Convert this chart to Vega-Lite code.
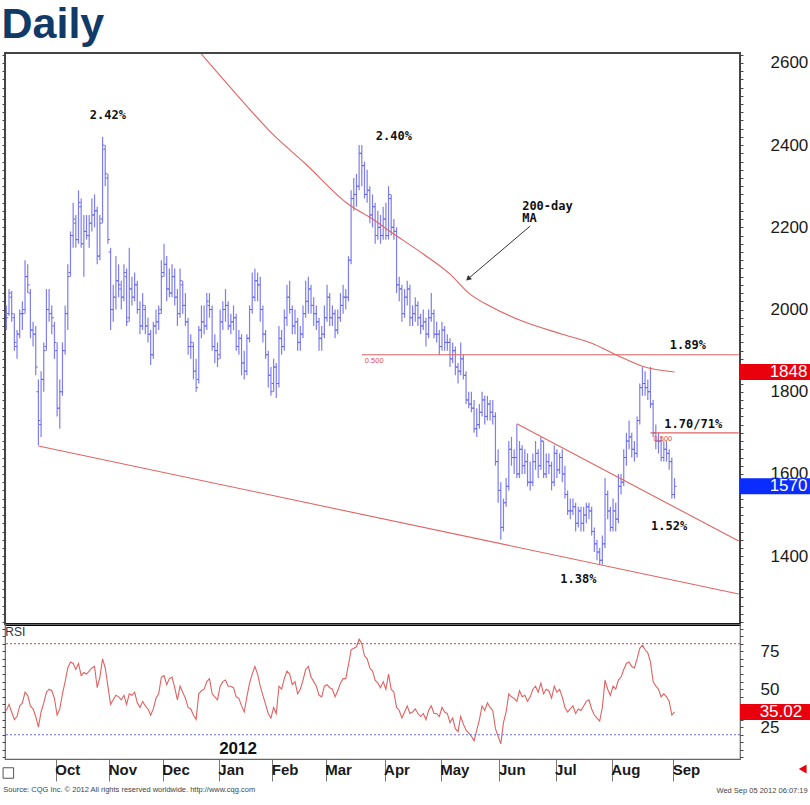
{
"$schema": "https://vega.github.io/schema/vega-lite/v6.json",
"padding": {"left": 0, "top": 4, "right": 0, "bottom": 0},
"background": "white",
"title": {"text": "Daily", "anchor": "start", "fontSize": 43, "font": "Liberation Sans", "fontWeight": "bold", "color": "#103a68", "offset": 4, "dx": 1},
"spacing": 0,
"bounds": "flush",
"resolve": {"scale": {"x": "independent", "y": "independent"}, "axis": {"x": "independent", "y": "independent"}},
"config": {"font": "Liberation Sans", "view": {"stroke": "#444", "strokeWidth": 1.5}, "axis": {"grid": false}},
"datasets": {
"px": [
{"d":"2011-09-06","o":1990,"h":2010,"l":1950,"c":1980,"r":36},
{"d":"2011-09-07","o":1990,"h":2050,"l":1985,"c":2040,"r":40},
{"d":"2011-09-08","o":2030,"h":2045,"l":1970,"c":1990,"r":35},
{"d":"2011-09-09","o":1980,"h":1990,"l":1900,"c":1920,"r":30},
{"d":"2011-09-12","o":1910,"h":1950,"l":1880,"c":1940,"r":32},
{"d":"2011-09-13","o":1940,"h":2000,"l":1930,"c":1990,"r":39},
{"d":"2011-09-14","o":1990,"h":2020,"l":1950,"c":1990,"r":41},
{"d":"2011-09-15","o":2000,"h":2120,"l":1990,"c":2080,"r":48},
{"d":"2011-09-16","o":2080,"h":2110,"l":2040,"c":2060,"r":46},
{"d":"2011-09-19","o":2040,"h":2050,"l":1930,"c":1950,"r":39},
{"d":"2011-09-20","o":1950,"h":1970,"l":1910,"c":1940,"r":37},
{"d":"2011-09-21","o":1940,"h":1960,"l":1840,"c":1860,"r":32},
{"d":"2011-09-22","o":1800,"h":1830,"l":1670,"c":1730,"r":25},
{"d":"2011-09-23","o":1720,"h":1850,"l":1690,"c":1830,"r":35},
{"d":"2011-09-26","o":1830,"h":1920,"l":1800,"c":1900,"r":41},
{"d":"2011-09-27","o":1910,"h":2050,"l":1900,"c":2000,"r":48},
{"d":"2011-09-28","o":2000,"h":2050,"l":1970,"c":1990,"r":50},
{"d":"2011-09-29","o":1990,"h":2010,"l":1940,"c":1980,"r":49},
{"d":"2011-09-30","o":1960,"h":1970,"l":1880,"c":1920,"r":44},
{"d":"2011-10-03","o":1900,"h":1920,"l":1740,"c":1760,"r":33},
{"d":"2011-10-04","o":1760,"h":1830,"l":1710,"c":1800,"r":37},
{"d":"2011-10-05","o":1800,"h":1920,"l":1790,"c":1900,"r":47},
{"d":"2011-10-06","o":1900,"h":2010,"l":1890,"c":1990,"r":55},
{"d":"2011-10-07","o":1990,"h":2110,"l":1950,"c":2080,"r":64},
{"d":"2011-10-11","o":2090,"h":2190,"l":2080,"c":2180,"r":68},
{"d":"2011-10-12","o":2180,"h":2260,"l":2150,"c":2220,"r":67},
{"d":"2011-10-13","o":2210,"h":2230,"l":2150,"c":2170,"r":63},
{"d":"2011-10-14","o":2170,"h":2290,"l":2160,"c":2260,"r":67},
{"d":"2011-10-17","o":2250,"h":2270,"l":2150,"c":2160,"r":59},
{"d":"2011-10-18","o":2160,"h":2230,"l":2080,"c":2190,"r":61},
{"d":"2011-10-19","o":2190,"h":2230,"l":2170,"c":2180,"r":60},
{"d":"2011-10-20","o":2180,"h":2230,"l":2150,"c":2210,"r":62},
{"d":"2011-10-21","o":2210,"h":2270,"l":2190,"c":2230,"r":64},
{"d":"2011-10-24","o":2230,"h":2280,"l":2200,"c":2240,"r":65},
{"d":"2011-10-25","o":2240,"h":2250,"l":2110,"c":2130,"r":51},
{"d":"2011-10-26","o":2130,"h":2230,"l":2120,"c":2210,"r":58},
{"d":"2011-10-27","o":2220,"h":2420,"l":2210,"c":2400,"r":70},
{"d":"2011-10-28","o":2390,"h":2400,"l":2300,"c":2330,"r":64},
{"d":"2011-10-31","o":2320,"h":2330,"l":2160,"c":2170,"r":52},
{"d":"2011-11-01","o":2140,"h":2150,"l":1950,"c":2000,"r":40},
{"d":"2011-11-02","o":2000,"h":2060,"l":1970,"c":2030,"r":43},
{"d":"2011-11-03","o":2030,"h":2130,"l":2000,"c":2070,"r":46},
{"d":"2011-11-04","o":2070,"h":2110,"l":2030,"c":2060,"r":45},
{"d":"2011-11-07","o":2050,"h":2070,"l":2000,"c":2030,"r":43},
{"d":"2011-11-08","o":2030,"h":2110,"l":2020,"c":2090,"r":46},
{"d":"2011-11-09","o":2080,"h":2100,"l":1960,"c":1970,"r":40},
{"d":"2011-11-10","o":1980,"h":2150,"l":1970,"c":2050,"r":47},
{"d":"2011-11-14","o":2050,"h":2080,"l":2010,"c":2030,"r":46},
{"d":"2011-11-15","o":2030,"h":2090,"l":2020,"c":2060,"r":48},
{"d":"2011-11-16","o":2060,"h":2070,"l":1990,"c":2000,"r":41},
{"d":"2011-11-17","o":2000,"h":2020,"l":1940,"c":1960,"r":38},
{"d":"2011-11-18","o":1960,"h":2040,"l":1950,"c":2010,"r":42},
{"d":"2011-11-21","o":2000,"h":2010,"l":1940,"c":1960,"r":39},
{"d":"2011-11-22","o":1960,"h":1980,"l":1920,"c":1940,"r":37},
{"d":"2011-11-23","o":1940,"h":1950,"l":1865,"c":1890,"r":33},
{"d":"2011-11-25","o":1890,"h":1970,"l":1880,"c":1960,"r":37},
{"d":"2011-11-28","o":1960,"h":2000,"l":1940,"c":1970,"r":44},
{"d":"2011-11-29","o":1970,"h":2010,"l":1950,"c":1990,"r":47},
{"d":"2011-11-30","o":2000,"h":2120,"l":1990,"c":2080,"r":58},
{"d":"2011-12-01","o":2090,"h":2160,"l":2080,"c":2110,"r":59},
{"d":"2011-12-02","o":2110,"h":2130,"l":2020,"c":2050,"r":53},
{"d":"2011-12-05","o":2050,"h":2100,"l":2030,"c":2040,"r":57},
{"d":"2011-12-06","o":2040,"h":2110,"l":2030,"c":2080,"r":58},
{"d":"2011-12-07","o":2080,"h":2100,"l":2010,"c":2030,"r":51},
{"d":"2011-12-08","o":2030,"h":2050,"l":1960,"c":1990,"r":43},
{"d":"2011-12-09","o":1990,"h":2100,"l":1980,"c":2070,"r":52},
{"d":"2011-12-12","o":2060,"h":2070,"l":1990,"c":2010,"r":48},
{"d":"2011-12-13","o":2010,"h":2040,"l":1960,"c":1970,"r":44},
{"d":"2011-12-14","o":1970,"h":1980,"l":1890,"c":1910,"r":38},
{"d":"2011-12-15","o":1910,"h":1940,"l":1880,"c":1920,"r":37},
{"d":"2011-12-16","o":1910,"h":1920,"l":1830,"c":1850,"r":33},
{"d":"2011-12-19","o":1850,"h":1880,"l":1800,"c":1810,"r":30},
{"d":"2011-12-20","o":1830,"h":1960,"l":1820,"c":1950,"r":47},
{"d":"2011-12-21","o":1950,"h":2010,"l":1930,"c":1970,"r":49},
{"d":"2011-12-22","o":1970,"h":2010,"l":1940,"c":1960,"r":50},
{"d":"2011-12-23","o":1960,"h":2040,"l":1950,"c":2020,"r":55},
{"d":"2011-12-27","o":2010,"h":2040,"l":1980,"c":2000,"r":57},
{"d":"2011-12-28","o":2000,"h":2010,"l":1900,"c":1910,"r":47},
{"d":"2011-12-29","o":1910,"h":1940,"l":1870,"c":1900,"r":45},
{"d":"2011-12-30","o":1900,"h":1920,"l":1860,"c":1880,"r":43},
{"d":"2012-01-03","o":1890,"h":2000,"l":1880,"c":1970,"r":52},
{"d":"2012-01-04","o":1970,"h":2020,"l":1950,"c":2000,"r":55},
{"d":"2012-01-05","o":2000,"h":2050,"l":1970,"c":2010,"r":56},
{"d":"2012-01-06","o":2010,"h":2020,"l":1950,"c":1960,"r":52},
{"d":"2012-01-09","o":1960,"h":1990,"l":1940,"c":1970,"r":52},
{"d":"2012-01-10","o":1970,"h":2010,"l":1950,"c":1980,"r":51},
{"d":"2012-01-11","o":1980,"h":1990,"l":1900,"c":1910,"r":45},
{"d":"2012-01-12","o":1910,"h":1950,"l":1890,"c":1930,"r":44},
{"d":"2012-01-13","o":1930,"h":1940,"l":1840,"c":1870,"r":39},
{"d":"2012-01-17","o":1870,"h":1900,"l":1830,"c":1850,"r":35},
{"d":"2012-01-18","o":1850,"h":1940,"l":1840,"c":1930,"r":45},
{"d":"2012-01-19","o":1930,"h":2010,"l":1920,"c":2000,"r":54},
{"d":"2012-01-20","o":2000,"h":2090,"l":1990,"c":2030,"r":60},
{"d":"2012-01-23","o":2030,"h":2100,"l":2020,"c":2070,"r":65},
{"d":"2012-01-24","o":2070,"h":2090,"l":2020,"c":2060,"r":60},
{"d":"2012-01-25","o":2060,"h":2080,"l":1970,"c":2000,"r":52},
{"d":"2012-01-26","o":2000,"h":2010,"l":1920,"c":1940,"r":46},
{"d":"2012-01-27","o":1940,"h":1950,"l":1880,"c":1890,"r":40},
{"d":"2012-01-30","o":1890,"h":1900,"l":1810,"c":1840,"r":34},
{"d":"2012-01-31","o":1840,"h":1860,"l":1790,"c":1800,"r":31},
{"d":"2012-02-01","o":1820,"h":1880,"l":1800,"c":1860,"r":38},
{"d":"2012-02-02","o":1860,"h":1870,"l":1785,"c":1820,"r":34},
{"d":"2012-02-03","o":1820,"h":1960,"l":1810,"c":1930,"r":52},
{"d":"2012-02-06","o":1930,"h":1950,"l":1890,"c":1910,"r":50},
{"d":"2012-02-07","o":1910,"h":2000,"l":1900,"c":1980,"r":57},
{"d":"2012-02-08","o":1980,"h":2060,"l":1960,"c":2030,"r":62},
{"d":"2012-02-09","o":2030,"h":2070,"l":1990,"c":2000,"r":60},
{"d":"2012-02-10","o":2000,"h":2010,"l":1940,"c":1960,"r":53},
{"d":"2012-02-13","o":1960,"h":2000,"l":1940,"c":1970,"r":55},
{"d":"2012-02-14","o":1970,"h":1980,"l":1900,"c":1920,"r":47},
{"d":"2012-02-15","o":1920,"h":1960,"l":1900,"c":1940,"r":50},
{"d":"2012-02-16","o":1940,"h":2010,"l":1930,"c":1990,"r":56},
{"d":"2012-02-17","o":1990,"h":2070,"l":1980,"c":2020,"r":63},
{"d":"2012-02-21","o":2020,"h":2080,"l":1990,"c":2050,"r":65},
{"d":"2012-02-22","o":2050,"h":2060,"l":1990,"c":2010,"r":58},
{"d":"2012-02-23","o":2010,"h":2030,"l":1960,"c":1990,"r":55},
{"d":"2012-02-24","o":1990,"h":2010,"l":1950,"c":1970,"r":52},
{"d":"2012-02-27","o":1970,"h":1980,"l":1900,"c":1930,"r":46},
{"d":"2012-02-28","o":1930,"h":1960,"l":1900,"c":1940,"r":45},
{"d":"2012-02-29","o":1940,"h":2010,"l":1930,"c":1980,"r":52},
{"d":"2012-03-01","o":1980,"h":2060,"l":1970,"c":2030,"r":53},
{"d":"2012-03-02","o":2030,"h":2040,"l":1960,"c":1980,"r":51},
{"d":"2012-03-05","o":1980,"h":2010,"l":1960,"c":1990,"r":50},
{"d":"2012-03-06","o":1990,"h":2000,"l":1930,"c":1950,"r":45},
{"d":"2012-03-07","o":1950,"h":2000,"l":1940,"c":1980,"r":49},
{"d":"2012-03-08","o":1980,"h":2040,"l":1970,"c":2010,"r":54},
{"d":"2012-03-09","o":2010,"h":2060,"l":1990,"c":2030,"r":57},
{"d":"2012-03-12","o":2030,"h":2050,"l":2000,"c":2030,"r":57},
{"d":"2012-03-13","o":2030,"h":2130,"l":2020,"c":2120,"r":66},
{"d":"2012-03-14","o":2120,"h":2290,"l":2110,"c":2270,"r":76},
{"d":"2012-03-15","o":2270,"h":2320,"l":2240,"c":2280,"r":77},
{"d":"2012-03-16","o":2280,"h":2330,"l":2250,"c":2300,"r":78},
{"d":"2012-03-19","o":2300,"h":2400,"l":2290,"c":2380,"r":83},
{"d":"2012-03-20","o":2380,"h":2400,"l":2300,"c":2350,"r":80},
{"d":"2012-03-21","o":2350,"h":2360,"l":2270,"c":2280,"r":72},
{"d":"2012-03-22","o":2280,"h":2340,"l":2260,"c":2290,"r":70},
{"d":"2012-03-23","o":2290,"h":2300,"l":2210,"c":2230,"r":64},
{"d":"2012-03-26","o":2230,"h":2280,"l":2200,"c":2250,"r":62},
{"d":"2012-03-27","o":2250,"h":2260,"l":2160,"c":2180,"r":56},
{"d":"2012-03-28","o":2180,"h":2240,"l":2170,"c":2200,"r":54},
{"d":"2012-03-29","o":2200,"h":2230,"l":2160,"c":2180,"r":51},
{"d":"2012-03-30","o":2180,"h":2250,"l":2170,"c":2220,"r":55},
{"d":"2012-04-02","o":2220,"h":2260,"l":2170,"c":2180,"r":50},
{"d":"2012-04-03","o":2180,"h":2300,"l":2170,"c":2280,"r":60},
{"d":"2012-04-04","o":2270,"h":2280,"l":2180,"c":2200,"r":50},
{"d":"2012-04-05","o":2200,"h":2220,"l":2170,"c":2190,"r":48},
{"d":"2012-04-06","o":2190,"h":2200,"l":2040,"c":2060,"r":38},
{"d":"2012-04-09","o":2060,"h":2080,"l":2020,"c":2050,"r":36},
{"d":"2012-04-10","o":2050,"h":2060,"l":1970,"c":1990,"r":31},
{"d":"2012-04-11","o":1990,"h":2050,"l":1980,"c":2030,"r":35},
{"d":"2012-04-12","o":2030,"h":2070,"l":2010,"c":2050,"r":39},
{"d":"2012-04-13","o":2050,"h":2060,"l":1960,"c":1980,"r":34},
{"d":"2012-04-16","o":1980,"h":2010,"l":1960,"c":1990,"r":35},
{"d":"2012-04-17","o":1990,"h":2030,"l":1970,"c":2010,"r":37},
{"d":"2012-04-18","o":2010,"h":2020,"l":1960,"c":1980,"r":34},
{"d":"2012-04-19","o":1980,"h":1990,"l":1940,"c":1960,"r":32},
{"d":"2012-04-20","o":1960,"h":2000,"l":1950,"c":1970,"r":34},
{"d":"2012-04-23","o":1970,"h":1980,"l":1910,"c":1940,"r":30},
{"d":"2012-04-24","o":1940,"h":2000,"l":1930,"c":1980,"r":36},
{"d":"2012-04-25","o":1980,"h":2040,"l":1970,"c":1990,"r":39},
{"d":"2012-04-26","o":1990,"h":2000,"l":1930,"c":1940,"r":34},
{"d":"2012-04-27","o":1940,"h":1970,"l":1920,"c":1940,"r":34},
{"d":"2012-04-30","o":1940,"h":1950,"l":1890,"c":1910,"r":32},
{"d":"2012-05-01","o":1910,"h":1970,"l":1900,"c":1950,"r":38},
{"d":"2012-05-02","o":1950,"h":1960,"l":1900,"c":1920,"r":35},
{"d":"2012-05-03","o":1920,"h":1940,"l":1900,"c":1920,"r":34},
{"d":"2012-05-04","o":1920,"h":1930,"l":1860,"c":1880,"r":28},
{"d":"2012-05-07","o":1880,"h":1920,"l":1870,"c":1900,"r":31},
{"d":"2012-05-08","o":1900,"h":1910,"l":1840,"c":1860,"r":24},
{"d":"2012-05-09","o":1860,"h":1870,"l":1820,"c":1850,"r":22},
{"d":"2012-05-10","o":1850,"h":1920,"l":1840,"c":1880,"r":32},
{"d":"2012-05-11","o":1880,"h":1890,"l":1830,"c":1840,"r":27},
{"d":"2012-05-14","o":1840,"h":1850,"l":1770,"c":1780,"r":23},
{"d":"2012-05-15","o":1780,"h":1800,"l":1760,"c":1770,"r":21},
{"d":"2012-05-16","o":1770,"h":1800,"l":1750,"c":1760,"r":19},
{"d":"2012-05-17","o":1760,"h":1780,"l":1700,"c":1710,"r":16},
{"d":"2012-05-18","o":1710,"h":1760,"l":1690,"c":1720,"r":23},
{"d":"2012-05-21","o":1720,"h":1770,"l":1710,"c":1750,"r":30},
{"d":"2012-05-22","o":1750,"h":1800,"l":1740,"c":1780,"r":39},
{"d":"2012-05-23","o":1780,"h":1790,"l":1720,"c":1740,"r":36},
{"d":"2012-05-24","o":1740,"h":1790,"l":1730,"c":1770,"r":41},
{"d":"2012-05-25","o":1770,"h":1780,"l":1730,"c":1750,"r":38},
{"d":"2012-05-29","o":1750,"h":1780,"l":1720,"c":1740,"r":36},
{"d":"2012-05-30","o":1740,"h":1750,"l":1620,"c":1630,"r":24},
{"d":"2012-05-31","o":1630,"h":1660,"l":1530,"c":1560,"r":19},
{"d":"2012-06-01","o":1560,"h":1580,"l":1440,"c":1470,"r":14},
{"d":"2012-06-04","o":1470,"h":1540,"l":1460,"c":1530,"r":28},
{"d":"2012-06-05","o":1530,"h":1590,"l":1520,"c":1570,"r":35},
{"d":"2012-06-06","o":1570,"h":1680,"l":1560,"c":1660,"r":47},
{"d":"2012-06-07","o":1660,"h":1690,"l":1620,"c":1640,"r":45},
{"d":"2012-06-08","o":1640,"h":1660,"l":1600,"c":1640,"r":44},
{"d":"2012-06-11","o":1640,"h":1720,"l":1590,"c":1600,"r":42},
{"d":"2012-06-12","o":1600,"h":1680,"l":1590,"c":1660,"r":49},
{"d":"2012-06-13","o":1660,"h":1670,"l":1600,"c":1620,"r":45},
{"d":"2012-06-14","o":1620,"h":1660,"l":1600,"c":1630,"r":46},
{"d":"2012-06-15","o":1630,"h":1650,"l":1570,"c":1580,"r":42},
{"d":"2012-06-18","o":1580,"h":1630,"l":1560,"c":1580,"r":45},
{"d":"2012-06-19","o":1580,"h":1650,"l":1570,"c":1630,"r":50},
{"d":"2012-06-20","o":1630,"h":1680,"l":1610,"c":1650,"r":52},
{"d":"2012-06-21","o":1650,"h":1660,"l":1590,"c":1620,"r":48},
{"d":"2012-06-22","o":1620,"h":1690,"l":1610,"c":1680,"r":54},
{"d":"2012-06-25","o":1680,"h":1680,"l":1590,"c":1600,"r":47},
{"d":"2012-06-26","o":1600,"h":1650,"l":1590,"c":1630,"r":50},
{"d":"2012-06-27","o":1630,"h":1650,"l":1600,"c":1620,"r":49},
{"d":"2012-06-28","o":1620,"h":1630,"l":1560,"c":1580,"r":44},
{"d":"2012-06-29","o":1580,"h":1670,"l":1570,"c":1650,"r":52},
{"d":"2012-07-02","o":1650,"h":1660,"l":1590,"c":1610,"r":48},
{"d":"2012-07-03","o":1610,"h":1650,"l":1600,"c":1640,"r":50},
{"d":"2012-07-05","o":1640,"h":1660,"l":1580,"c":1600,"r":45},
{"d":"2012-07-06","o":1600,"h":1620,"l":1540,"c":1550,"r":38},
{"d":"2012-07-09","o":1550,"h":1560,"l":1500,"c":1510,"r":35},
{"d":"2012-07-10","o":1510,"h":1540,"l":1490,"c":1510,"r":37},
{"d":"2012-07-11","o":1510,"h":1540,"l":1500,"c":1520,"r":39},
{"d":"2012-07-12","o":1520,"h":1530,"l":1460,"c":1480,"r":34},
{"d":"2012-07-13","o":1480,"h":1520,"l":1470,"c":1510,"r":37},
{"d":"2012-07-16","o":1510,"h":1520,"l":1460,"c":1480,"r":36},
{"d":"2012-07-17","o":1480,"h":1520,"l":1460,"c":1500,"r":39},
{"d":"2012-07-18","o":1500,"h":1530,"l":1480,"c":1520,"r":42},
{"d":"2012-07-19","o":1520,"h":1530,"l":1490,"c":1510,"r":43},
{"d":"2012-07-20","o":1510,"h":1520,"l":1450,"c":1460,"r":37},
{"d":"2012-07-23","o":1460,"h":1470,"l":1410,"c":1430,"r":33},
{"d":"2012-07-24","o":1430,"h":1440,"l":1390,"c":1410,"r":31},
{"d":"2012-07-25","o":1410,"h":1420,"l":1380,"c":1390,"r":29},
{"d":"2012-07-26","o":1390,"h":1450,"l":1380,"c":1430,"r":38},
{"d":"2012-07-27","o":1430,"h":1590,"l":1420,"c":1550,"r":56},
{"d":"2012-07-30","o":1550,"h":1560,"l":1490,"c":1510,"r":50},
{"d":"2012-07-31","o":1510,"h":1520,"l":1460,"c":1470,"r":46},
{"d":"2012-08-01","o":1470,"h":1540,"l":1460,"c":1510,"r":52},
{"d":"2012-08-02","o":1510,"h":1530,"l":1460,"c":1490,"r":50},
{"d":"2012-08-03","o":1490,"h":1600,"l":1480,"c":1570,"r":56},
{"d":"2012-08-06","o":1570,"h":1600,"l":1550,"c":1580,"r":58},
{"d":"2012-08-07","o":1580,"h":1660,"l":1570,"c":1640,"r":63},
{"d":"2012-08-08","o":1640,"h":1700,"l":1620,"c":1680,"r":67},
{"d":"2012-08-09","o":1680,"h":1730,"l":1660,"c":1690,"r":68},
{"d":"2012-08-10","o":1690,"h":1700,"l":1640,"c":1660,"r":65},
{"d":"2012-08-13","o":1660,"h":1680,"l":1630,"c":1650,"r":64},
{"d":"2012-08-14","o":1650,"h":1740,"l":1640,"c":1730,"r":70},
{"d":"2012-08-15","o":1730,"h":1820,"l":1720,"c":1810,"r":77},
{"d":"2012-08-16","o":1810,"h":1860,"l":1790,"c":1820,"r":79},
{"d":"2012-08-17","o":1820,"h":1850,"l":1790,"c":1810,"r":76},
{"d":"2012-08-20","o":1810,"h":1830,"l":1780,"c":1800,"r":74},
{"d":"2012-08-21","o":1800,"h":1860,"l":1760,"c":1770,"r":68},
{"d":"2012-08-22","o":1770,"h":1780,"l":1690,"c":1700,"r":55},
{"d":"2012-08-23","o":1700,"h":1720,"l":1660,"c":1680,"r":52},
{"d":"2012-08-24","o":1680,"h":1700,"l":1650,"c":1680,"r":50},
{"d":"2012-08-27","o":1680,"h":1690,"l":1630,"c":1640,"r":45},
{"d":"2012-08-28","o":1640,"h":1680,"l":1630,"c":1660,"r":47},
{"d":"2012-08-29","o":1660,"h":1680,"l":1630,"c":1650,"r":45},
{"d":"2012-08-30","o":1650,"h":1660,"l":1610,"c":1630,"r":42},
{"d":"2012-08-31","o":1630,"h":1640,"l":1540,"c":1550,"r":33},
{"d":"2012-09-04","o":1550,"h":1590,"l":1540,"c":1570,"r":35.02}
],
"ma": [
{"d":"2011-12-21","v":2621},{"d":"2012-01-11","v":2524},{"d":"2012-01-31","v":2431},{"d":"2012-02-17","v":2354},
{"d":"2012-03-13","v":2256},{"d":"2012-03-26","v":2220},{"d":"2012-04-04","v":2188},{"d":"2012-04-20","v":2135},
{"d":"2012-05-04","v":2086},{"d":"2012-05-15","v":2040},{"d":"2012-05-25","v":2008},{"d":"2012-06-13","v":1972},
{"d":"2012-07-05","v":1940},{"d":"2012-07-20","v":1918},{"d":"2012-08-03","v":1887},{"d":"2012-08-16","v":1862},
{"d":"2012-09-04","v":1848}
],
"tl": [
{"d1":"2011-09-22","v1":1668,"d2":"2012-10-08","v2":1308},
{"d1":"2012-06-11","v1":1722,"d2":"2012-10-08","v2":1437}
],
"hl": [
{"d1":"2012-03-20","d2":"2012-10-08","v":1890,"t":"0.500"},
{"d1":"2012-08-21","d2":"2012-10-08","v":1700,"t":"0.500"}
],
"notes": [
{"d":"2011-10-31","v":2473,"t":"2.42%"},
{"d":"2012-04-05","v":2422,"t":"2.40%"},
{"d":"2012-09-11","v":1913,"t":"1.89%"},
{"d":"2012-09-13","v":1721,"t":"1.70/71%"},
{"d":"2012-08-30","v":1473,"t":"1.52%"},
{"d":"2012-07-13","v":1344,"t":"1.38%"}
],
"manote": [{"d":"2012-06-13","v":2251,"t":"200-day\nMA"}],
"arrow": [{"d1":"2012-06-18","v1":2203,"d2":"2012-05-15","v2":2076}],
"tags": [{"k":"ma","v":1848,"t":"1848"},{"k":"last","v":1570,"t":"1570"}],
"rsitag": [{"v":35.02,"t":"35.02"}]
},
"vconcat": [
{
"width": 735, "height": 571,
"view": {"stroke": "#444", "strokeWidth": 2},
"resolve": {"axis": {"y": "independent"}},
"layer": [
{"data": {"name": "px"},
 "mark": {"type": "rule", "color": "#7e7ef2", "strokeWidth": 1.2},
 "encoding": {
  "x": {"field": "d", "type": "ordinal",
        "scale": {"type": "point", "padding": 0.5, "domain": {"unionWith": ["2012-09-05","2012-09-06","2012-09-07","2012-09-10","2012-09-11","2012-09-12","2012-09-13","2012-09-14","2012-09-17","2012-09-18","2012-09-19","2012-09-20","2012-09-21","2012-09-24","2012-09-25","2012-09-26","2012-09-27","2012-09-28","2012-10-01","2012-10-02","2012-10-03","2012-10-04","2012-10-05","2012-10-08"]}},
        "axis": {"orient": "bottom", "labels": false, "ticks": false, "domainColor": "#000", "domainWidth": 3, "title": null, "grid": false, "values": []}},
  "y": {"field": "l", "type": "quantitative",
        "scale": {"domain": [1235, 2624], "nice": false, "zero": false, "padding": 0},
        "axis": {"orient": "right", "title": null, "grid": false, "domain": false,
                 "values": [1240,1260,1280,1300,1320,1340,1360,1380,1400,1420,1440,1460,1480,1500,1520,1540,1560,1580,1600,1620,1640,1660,1680,1700,1720,1740,1760,1780,1800,1820,1840,1860,1880,1900,1920,1940,1960,1980,2000,2020,2040,2060,2080,2100,2120,2140,2160,2180,2200,2220,2240,2260,2280,2300,2320,2340,2360,2380,2400,2420,2440,2460,2480,2500,2520,2540,2560,2580,2600,2620],
                 "format": "d", "labelExpr": "datum.value % 200 === 0 ? datum.label : ''",
                 "labelOverlap": false, "labelBound": false, "labelFlush": false,
                 "tickSize": 3, "tickColor": "#444", "labelPadding": 27,
                 "labelFont": "Liberation Sans", "labelColor": "#1a1a1a",
                 "labelFontSize": {"condition": {"test": "datum.value % 200 === 0", "value": 17}, "value": 0}}},
  "y2": {"field": "h"}
 }},
{"data": {"name": "px"},
 "mark": {"type": "rule", "color": "#6666e4", "strokeWidth": 1, "xOffset": -2, "x2Offset": 0},
 "encoding": {
  "x": {"field": "d", "type": "ordinal"}, "x2": {"field": "d"},
  "y": {"field": "o", "type": "quantitative",
        "axis": {"orient": "left", "title": null, "grid": false, "domain": false, "labels": false,
                 "values": [1240,1260,1280,1300,1320,1340,1360,1380,1400,1420,1440,1460,1480,1500,1520,1540,1560,1580,1600,1620,1640,1660,1680,1700,1720,1740,1760,1780,1800,1820,1840,1860,1880,1900,1920,1940,1960,1980,2000,2020,2040,2060,2080,2100,2120,2140,2160,2180,2200,2220,2240,2260,2280,2300,2320,2340,2360,2380,2400,2420,2440,2460,2480,2500,2520,2540,2560,2580,2600,2620],
                 "tickSize": 3, "tickColor": "#444"}}
 }},
{"data": {"name": "px"},
 "mark": {"type": "rule", "color": "#6666e4", "strokeWidth": 1, "xOffset": 0, "x2Offset": 2},
 "encoding": {
  "x": {"field": "d", "type": "ordinal"}, "x2": {"field": "d"},
  "y": {"field": "c", "type": "quantitative", "axis": null}
 }},
{"data": {"name": "ma"},
 "mark": {"type": "line", "color": "#e06464", "strokeWidth": 1.1, "interpolate": "monotone"},
 "encoding": {
  "x": {"field": "d", "type": "ordinal"},
  "y": {"field": "v", "type": "quantitative", "axis": null}
 }},
{"data": {"name": "tl"},
 "mark": {"type": "rule", "color": "#e06464", "strokeWidth": 1.1},
 "encoding": {
  "x": {"field": "d1", "type": "ordinal"}, "x2": {"field": "d2"},
  "y": {"field": "v1", "type": "quantitative", "axis": null}, "y2": {"field": "v2"}
 }},
{"data": {"name": "hl"},
 "mark": {"type": "rule", "color": "#e06464", "strokeWidth": 1.1},
 "encoding": {
  "x": {"field": "d1", "type": "ordinal"}, "x2": {"field": "d2"},
  "y": {"field": "v", "type": "quantitative", "axis": null}
 }},
{"data": {"name": "hl"},
 "mark": {"type": "text", "color": "#e05050", "fontSize": 7.5, "align": "left", "baseline": "top", "dx": 3, "dy": 2},
 "encoding": {
  "x": {"field": "d1", "type": "ordinal"},
  "y": {"field": "v", "type": "quantitative", "axis": null},
  "text": {"field": "t"}
 }},
{"data": {"name": "notes"},
 "mark": {"type": "text", "font": "DejaVu Sans Mono", "fontSize": 12, "fontWeight": "bold", "color": "#111", "align": "center", "baseline": "middle"},
 "encoding": {
  "x": {"field": "d", "type": "ordinal"},
  "y": {"field": "v", "type": "quantitative", "axis": null},
  "text": {"field": "t"}
 }},
{"data": {"name": "manote"},
 "mark": {"type": "text", "font": "DejaVu Sans Mono", "fontSize": 12, "fontWeight": "bold", "color": "#111", "align": "left", "baseline": "middle", "lineBreak": "\n", "lineHeight": 12},
 "encoding": {
  "x": {"field": "d", "type": "ordinal"},
  "y": {"field": "v", "type": "quantitative", "axis": null},
  "text": {"field": "t"}
 }},
{"data": {"name": "arrow"},
 "mark": {"type": "rule", "color": "#333", "strokeWidth": 1},
 "encoding": {
  "x": {"field": "d1", "type": "ordinal"}, "x2": {"field": "d2"},
  "y": {"field": "v1", "type": "quantitative", "axis": null}, "y2": {"field": "v2"}
 }},
{"data": {"name": "arrow"},
 "mark": {"type": "point", "shape": "triangle", "filled": true, "color": "#333", "size": 35, "angle": 228, "opacity": 1},
 "encoding": {
  "x": {"field": "d2", "type": "ordinal"},
  "y": {"field": "v2", "type": "quantitative", "axis": null}
 }},
{"data": {"name": "tags"},
 "mark": {"type": "rect", "xOffset": 1.3, "x2Offset": 71.3, "yOffset": -8, "y2Offset": 8},
 "encoding": {
  "x": {"datum": "2012-10-08", "type": "ordinal"},
  "x2": {"datum": "2012-10-08"},
  "y": {"field": "v", "type": "quantitative", "axis": null}, "y2": {"field": "v"},
  "color": {"field": "k", "type": "nominal", "scale": {"domain": ["ma", "last"], "range": ["#e8000c", "#0a2cff"]}, "legend": null}
 }},
{"data": {"name": "tags"},
 "mark": {"type": "text", "color": "white", "fontSize": 17, "font": "Liberation Sans", "align": "left", "baseline": "middle", "dx": 31},
 "encoding": {
  "x": {"datum": "2012-10-08", "type": "ordinal"},
  "y": {"field": "v", "type": "quantitative", "axis": null},
  "text": {"field": "t"}
 }}
]
},
{
"width": 735, "height": 135,
"view": {"stroke": "#666", "strokeWidth": 1.2},
"resolve": {"axis": {"y": "independent"}},
"layer": [
{"data": {"name": "px"},
 "mark": {"type": "line", "color": "#e06262", "strokeWidth": 1.1},
 "encoding": {
  "x": {"field": "d", "type": "ordinal",
        "scale": {"type": "point", "padding": 0.5, "domain": {"unionWith": ["2012-09-05","2012-09-06","2012-09-07","2012-09-10","2012-09-11","2012-09-12","2012-09-13","2012-09-14","2012-09-17","2012-09-18","2012-09-19","2012-09-20","2012-09-21","2012-09-24","2012-09-25","2012-09-26","2012-09-27","2012-09-28","2012-10-01","2012-10-02","2012-10-03","2012-10-04","2012-10-05","2012-10-08"]}},
        "axis": {"orient": "bottom", "title": null, "grid": false,
                 "values": ["2011-10-03","2011-11-01","2011-12-01","2012-01-03","2012-02-01","2012-03-01","2012-04-02","2012-05-01","2012-06-01","2012-07-02","2012-08-01","2012-09-04"],
                 "labelExpr": "['','Jan','Feb','Mar','Apr','May','Jun','Jul','Aug','Sep','Oct','Nov','Dec'][toNumber(substring(datum.value, 5, 7))]",
                 "tickOffset": -1.3, "labelAlign": "left", "labelOffset": -1, "labelBaseline": "middle",
                 "tickSize": 22, "tickColor": "#777", "labelPadding": -12, "labelAngle": 0,
                 "labelFont": "Liberation Sans", "labelFontSize": 15, "labelFontWeight": "bold", "labelColor": "#1a1a1a",
                 "labelOverlap": false, "labelBound": false, "labelFlush": false, "domainColor": "#666"}},
  "y": {"field": "r", "type": "quantitative",
        "scale": {"domain": [4, 93], "nice": false, "zero": false, "padding": 0},
        "axis": {"orient": "right", "title": null, "grid": false, "domain": false,
                 "values": [5,10,15,20,25,30,35,40,45,50,55,60,65,70,75,80,85,90],
                 "labelExpr": "datum.value == 25 || datum.value == 50 || datum.value == 75 ? datum.label : ''",
                 "labelOverlap": false, "labelBound": false, "labelFlush": false,
                 "tickSize": 3, "tickColor": "#444", "labelPadding": 17,
                 "labelFont": "Liberation Sans", "labelColor": "#1a1a1a",
                 "labelFontSize": {"condition": {"test": "datum.value % 25 === 0", "value": 17}, "value": 0}}}
 }},
{"data": {"values": [{}]},
 "mark": {"type": "rule", "color": "#e06262", "strokeWidth": 1.2, "strokeDash": [2, 2]},
 "encoding": {"y": {"datum": 80, "type": "quantitative",
   "axis": {"orient": "left", "title": null, "grid": false, "domain": false, "labels": false,
            "values": [5,10,15,20,25,30,35,40,45,50,55,60,65,70,75,80,85,90], "tickSize": 3, "tickColor": "#444"}}}},
{"data": {"values": [{}]},
 "mark": {"type": "rule", "color": "#6b6be0", "strokeWidth": 1.2, "strokeDash": [2, 2]},
 "encoding": {"y": {"datum": 20, "type": "quantitative", "axis": null}}},
{"data": {"values": [{}]},
 "mark": {"type": "text", "text": "RSI", "fontSize": 12, "color": "#333", "align": "left", "baseline": "top", "dx": -1, "dy": 3},
 "encoding": {
  "x": {"datum": "2011-09-06", "type": "ordinal"},
  "y": {"datum": 93, "type": "quantitative", "axis": null}}},
{"data": {"values": [{}]},
 "mark": {"type": "text", "text": "2012", "fontSize": 17, "fontWeight": "bold", "color": "#111", "align": "left", "baseline": "bottom", "dx": -1, "dy": -1},
 "encoding": {
  "x": {"datum": "2012-01-03", "type": "ordinal"},
  "y": {"datum": 4, "type": "quantitative", "axis": null}}},
{"data": {"name": "rsitag"},
 "mark": {"type": "rect", "color": "#e8000c", "xOffset": 1.3, "x2Offset": 71.3, "yOffset": -8, "y2Offset": 8},
 "encoding": {
  "x": {"datum": "2012-10-08", "type": "ordinal"},
  "x2": {"datum": "2012-10-08"},
  "y": {"field": "v", "type": "quantitative", "axis": null}, "y2": {"field": "v"}}},
{"data": {"name": "rsitag"},
 "mark": {"type": "text", "color": "white", "fontSize": 17, "font": "Liberation Sans", "align": "left", "baseline": "middle", "dx": 21},
 "encoding": {
  "x": {"datum": "2012-10-08", "type": "ordinal"},
  "y": {"field": "v", "type": "quantitative", "axis": null},
  "text": {"field": "t"}}},
{"data": {"values": [{}]},
 "mark": {"type": "point", "shape": "square", "filled": false, "color": "#555", "strokeWidth": 1, "size": 110, "opacity": 1, "xOffset": 2, "yOffset": 14},
 "encoding": {
  "x": {"datum": "2011-09-06", "type": "ordinal"},
  "y": {"datum": 4, "type": "quantitative", "axis": null}}},
{"data": {"values": [{}]},
 "mark": {"type": "text", "text": "Source: CQG Inc. © 2012 All rights reserved worldwide. http://www.cqg.com", "fontSize": 7.5, "color": "#444", "align": "left", "baseline": "middle", "dx": -3, "dy": 31},
 "encoding": {
  "x": {"datum": "2011-09-06", "type": "ordinal"},
  "y": {"datum": 4, "type": "quantitative", "axis": null}}},
{"data": {"values": [{}]},
 "mark": {"type": "text", "text": "Wed Sep 05 2012 06:07:19", "fontSize": 7.5, "color": "#444", "align": "right", "baseline": "middle", "dx": 69, "dy": 32},
 "encoding": {
  "x": {"datum": "2012-10-08", "type": "ordinal"},
  "y": {"datum": 4, "type": "quantitative", "axis": null}}},
{"data": {"values": [{}]},
 "mark": {"type": "point", "shape": "triangle-left", "filled": true, "color": "#e8000c", "size": 80, "opacity": 1, "xOffset": 64, "yOffset": 10},
 "encoding": {
  "x": {"datum": "2012-10-08", "type": "ordinal"},
  "y": {"datum": 4, "type": "quantitative", "axis": null}}}
]
}
]
}
